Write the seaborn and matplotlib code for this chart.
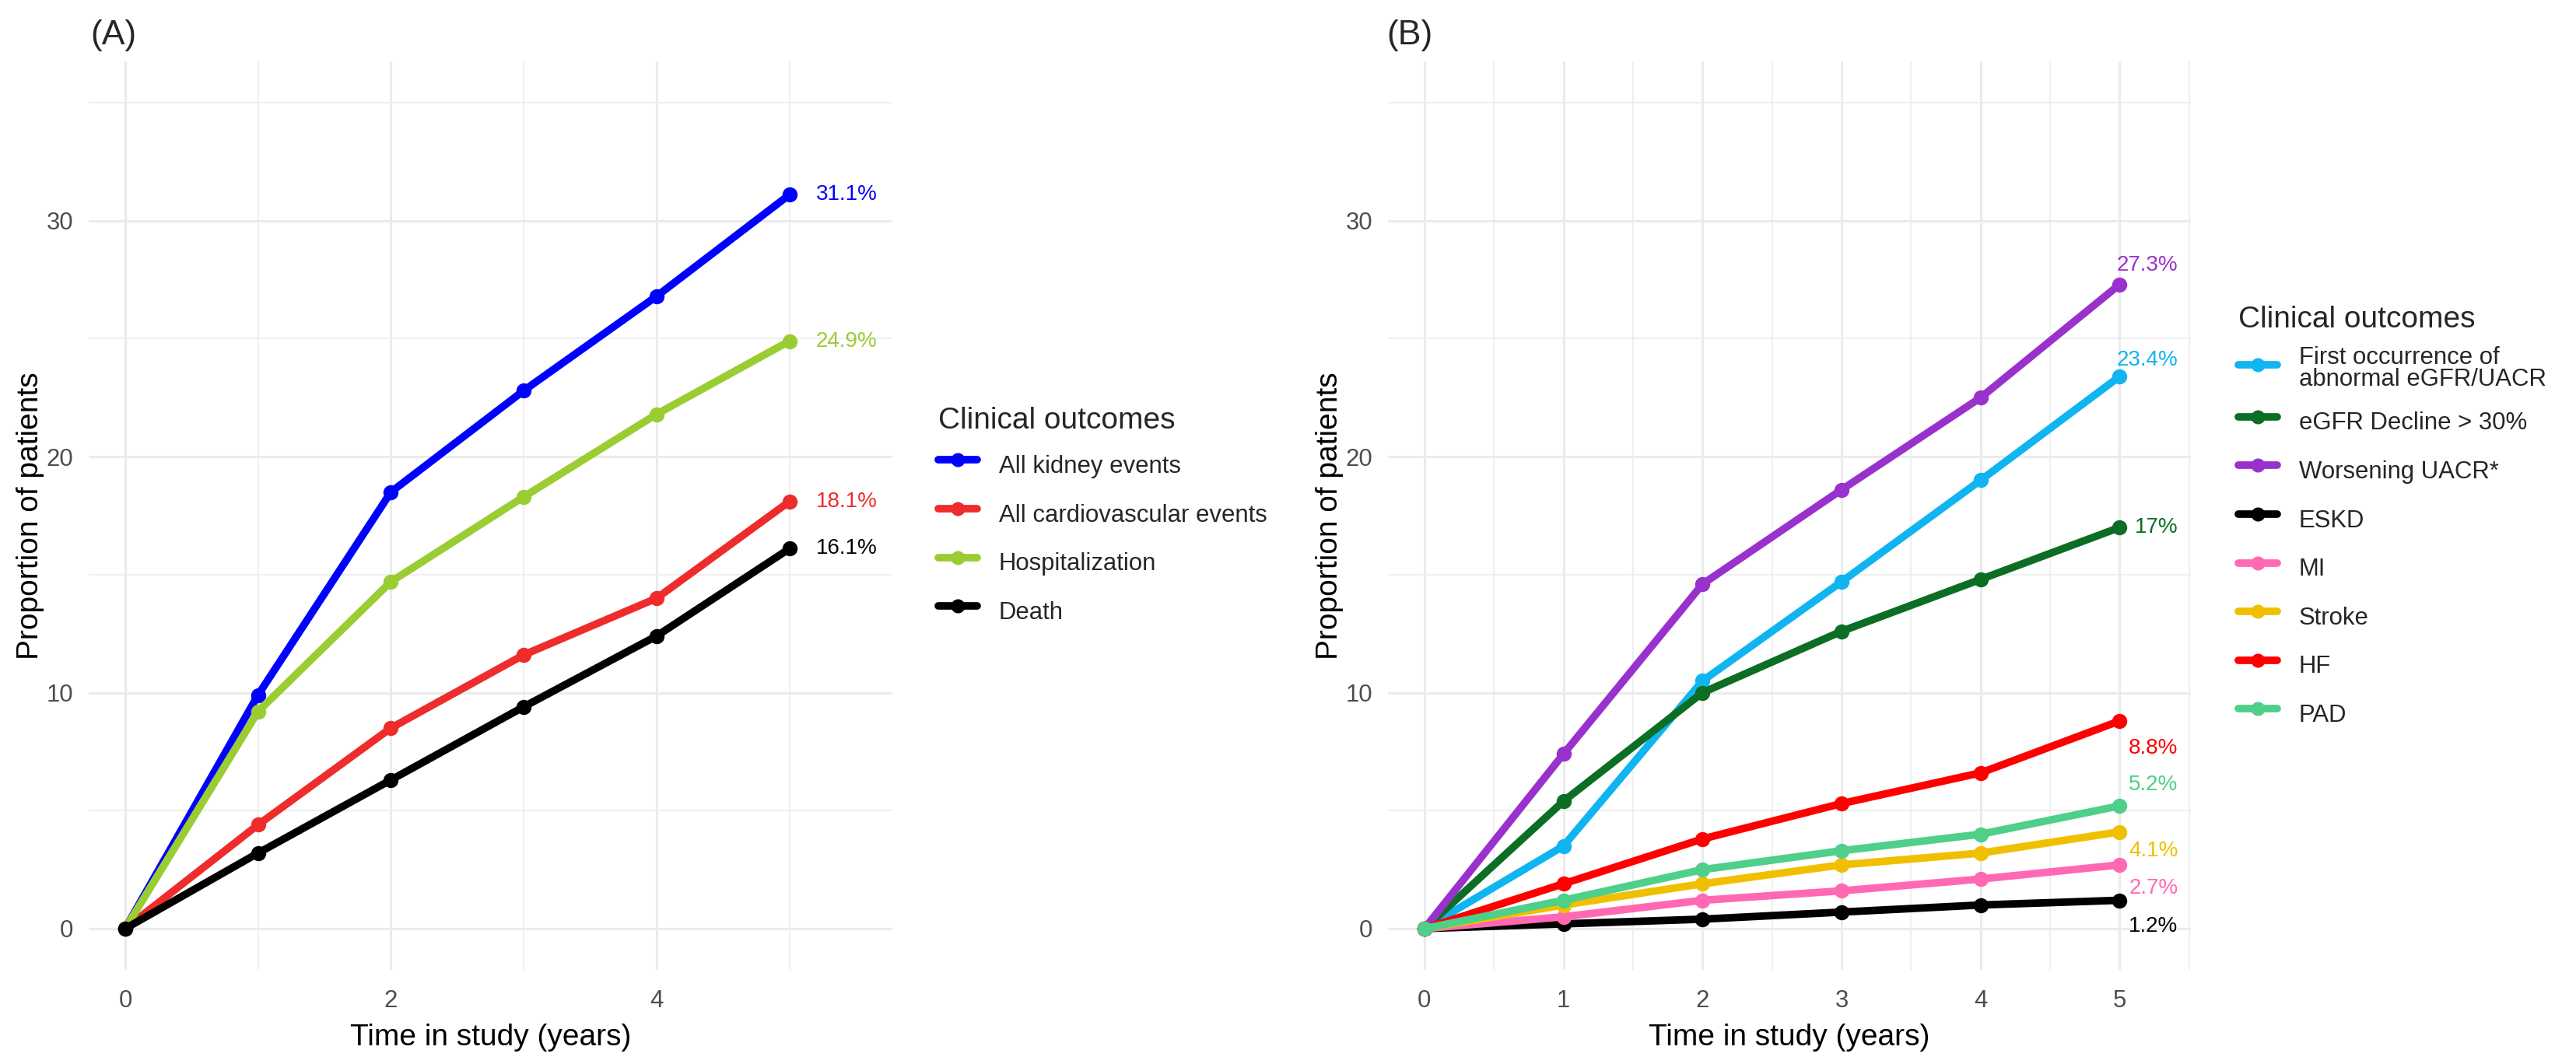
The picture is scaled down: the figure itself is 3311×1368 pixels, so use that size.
import numpy as np
import pandas as pd
import matplotlib
matplotlib.use("Agg")
import matplotlib.pyplot as plt
import seaborn as sns
from matplotlib.lines import Line2D
from matplotlib.ticker import FixedLocator

# ---------------- data ----------------
years = [0, 1, 2, 3, 4, 5]

a_outcomes = ["All kidney events", "All cardiovascular events", "Hospitalization", "Death"]
a_kidney = [0, 9.9, 18.5, 22.8, 26.8, 31.1]
a_cardio = [0, 4.4, 8.5, 11.6, 14.0, 18.1]
a_hosp = [0, 9.2, 14.7, 18.3, 21.8, 24.9]
a_death = [0, 3.2, 6.3, 9.4, 12.4, 16.1]
a_labels = ["31.1%", "18.1%", "24.9%", "16.1%"]
a_colors = ["#0000FF", "#EE2C2C", "#9ACD32", "#000000"]

b_outcomes = ["First occurrence of\nabnormal eGFR/UACR", "eGFR Decline > 30%", "Worsening UACR*",
              "ESKD", "MI", "Stroke", "HF", "PAD"]
b_first = [0, 3.5, 10.5, 14.7, 19.0, 23.4]
b_egfr = [0, 5.4, 10.0, 12.6, 14.8, 17.0]
b_uacr = [0, 7.4, 14.6, 18.6, 22.5, 27.3]
b_eskd = [0, 0.2, 0.4, 0.7, 1.0, 1.2]
b_mi = [0, 0.5, 1.2, 1.6, 2.1, 2.7]
b_stroke = [0, 1.0, 1.9, 2.7, 3.2, 4.1]
b_hf = [0, 1.9, 3.8, 5.3, 6.6, 8.8]
b_pad = [0, 1.2, 2.5, 3.3, 4.0, 5.2]
b_labels = ["23.4%", "17%", "27.3%", "1.2%", "2.7%", "4.1%", "8.8%", "5.2%"]
b_colors = ["#10B4F0", "#0B6E24", "#9932CC", "#000000", "#FF69B4", "#F0C000", "#FF0000", "#4ECF8A"]
# label vertical offsets (layout only)
b_label_dy = [0.7, 0.0, 0.8, -1.1, -1.0, -0.8, -1.15, 0.9]


def long_df(names, series):
    rows = []
    for n, s in zip(names, series):
        for t, v in zip(years, s):
            rows.append({"year": t, "value": v, "outcome": n})
    return pd.DataFrame(rows)


df_a = long_df(a_outcomes, [a_kidney, a_cardio, a_hosp, a_death])
df_b = long_df(b_outcomes, [b_first, b_egfr, b_uacr, b_eskd, b_mi, b_stroke, b_hf, b_pad])

# ---------------- style ----------------
sns.set_theme(style="white")
plt.rcParams["font.family"] = ["Liberation Sans", "DejaVu Sans"]

W, H = 3312, 1368
DPI = 200
fig = plt.figure(figsize=(W / DPI, H / DPI), dpi=DPI)

GRID = "#EBEBEB"
LW = 3.5
MS = 7.0
LEG_FS = 11.2
LEG_PAD = 0.95


def px_rect(l, t, r, b):
    return [l / W, 1 - b / H, (r - l) / W, (b - t) / H]


def style_axis(ax, xlim, xmajor, xminor):
    ax.set_xlim(*xlim)
    ax.set_ylim(-1.75, 36.75)
    ax.xaxis.set_major_locator(FixedLocator(xmajor))
    ax.xaxis.set_minor_locator(FixedLocator(xminor))
    ax.yaxis.set_major_locator(FixedLocator([0, 10, 20, 30]))
    ax.yaxis.set_minor_locator(FixedLocator([5, 15, 25, 35]))
    ax.grid(which="major", color=GRID, linewidth=1.1)
    ax.grid(which="minor", color=GRID, linewidth=0.55)
    ax.set_axisbelow(True)
    for s in ax.spines.values():
        s.set_visible(False)
    ax.tick_params(which="both", length=0)
    ax.tick_params(axis="x", labelsize=11.2, colors="#4D4D4D", pad=9)
    ax.tick_params(axis="y", labelsize=11.2, colors="#4D4D4D", pad=7)
    ax.set_xlabel("Time in study (years)", fontsize=14, color="black", labelpad=5)
    ax.set_ylabel("Proportion of patients", fontsize=14, color="black", labelpad=1)


def draw(ax, df, order, colors):
    sns.lineplot(data=df, x="year", y="value", hue="outcome", hue_order=order,
                 palette=dict(zip(order, colors)), marker="o", markersize=MS,
                 markeredgewidth=0, linewidth=LW, legend=False, ax=ax,
                 errorbar=None, sort=False)


def add_legend(order, colors, x_px, y_px):
    handles = [Line2D([0], [0], color=c, lw=LW, marker="o", markersize=MS - 0.5,
                      markeredgewidth=0) for c in colors]
    pad_px = LEG_PAD * LEG_FS * DPI / 72
    leg = fig.legend(handles, order, loc="upper left",
                     bbox_to_anchor=((x_px - pad_px) / W, 1 - (y_px - pad_px) / H),
                     frameon=False, title="Clinical outcomes",
                     title_fontsize=14, fontsize=LEG_FS, handlelength=1.6,
                     handleheight=1.95, handletextpad=0.9, labelspacing=0.5,
                     borderpad=LEG_PAD, borderaxespad=0, alignment="left")
    for t in leg.get_texts():
        t.set_linespacing(0.95)
    return leg


# ---------------- panel A ----------------
axA = fig.add_axes(px_rect(114, 79, 1147, 1247))
style_axis(axA, (-0.275, 5.775), [0, 2, 4], [1, 3, 5])
draw(axA, df_a, a_outcomes, a_colors)
for s, lab, c in zip([a_kidney, a_cardio, a_hosp, a_death], a_labels, a_colors):
    axA.text(5.2, s[-1], lab, color=c, fontsize=10, ha="left", va="center")
fig.text(116 / W, 1 - 66 / H, "(A)", fontsize=16, ha="left", va="bottom")
add_legend(a_outcomes, a_colors, 1206, 523)

# ---------------- panel B ----------------
axB = fig.add_axes(px_rect(1784, 79, 2816, 1247))
style_axis(axB, (-0.2625, 5.5125), [0, 1, 2, 3, 4, 5], [0.5, 1.5, 2.5, 3.5, 4.5, 5.5])
draw(axB, df_b, b_outcomes, b_colors)
for s, lab, c, dy in zip([b_first, b_egfr, b_uacr, b_eskd, b_mi, b_stroke, b_hf, b_pad],
                         b_labels, b_colors, b_label_dy):
    axB.text(5.42, s[-1] + dy, lab, color=c, fontsize=10, ha="right", va="center")
fig.text(1782 / W, 1 - 66 / H, "(B)", fontsize=16, ha="left", va="bottom")
add_legend(b_outcomes, b_colors, 2877, 393)

fig.savefig("out.png", dpi=DPI)
